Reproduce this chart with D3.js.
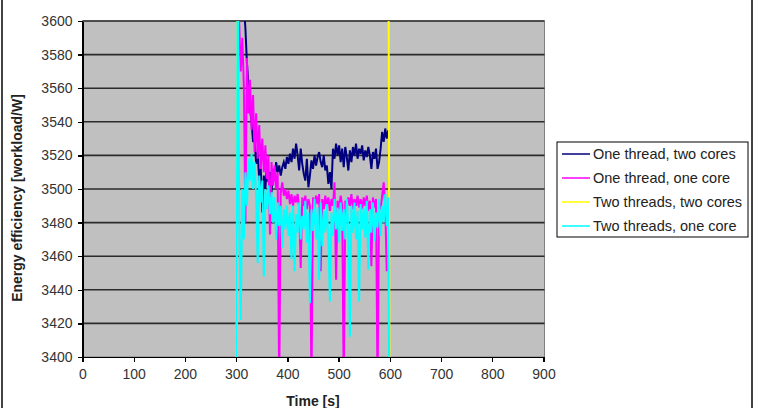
<!DOCTYPE html>
<meta charset="utf-8">
<style>

body {
  margin: 0;
  background: #fff;
}

.plot-bg {
  fill: #c0c0c0;
  stroke: #808080;
  stroke-width: 1;
}

.grid line {
  stroke: #2b2b2b;
  stroke-width: 1.6;
}

.axis path,
.axis line {
  stroke: #000;
  stroke-width: 1.3;
  shape-rendering: crispEdges;
}

.axis text {
  font-family: "Liberation Sans", Arial, sans-serif;
  font-size: 14px;
  fill: #333;
}

.series {
  fill: none;
  stroke-width: 2;
  stroke-linejoin: miter;
}

.axis-title {
  font-family: "Liberation Sans", Arial, sans-serif;
  font-size: 14px;
  font-weight: bold;
  fill: #222;
}

.legend-box {
  fill: #fff;
  stroke: #000;
  stroke-width: 1;
}

.legend-label {
  font-family: "Liberation Sans", Arial, sans-serif;
  font-size: 14.5px;
  fill: #222;
}

.frame {
  stroke: #444;
  stroke-width: 2;
}

</style>
<svg width="762" height="408"></svg>

<script src="https://d3js.org/d3.v7.min.js"></script>

<script>

// sample times (s), shared by the three measured series
var times = [300,303,306,309,312,315,318,321,324,327,330,333,336,339,342,345,348,351,354,357,
  360,363,366,369,372,375,378,381,384,387,390,393,396,399,402,405,408,411,414,417,
  420,423,426,429,432,435,438,441,444,447,450,453,456,459,462,465,468,471,474,477,
  480,483,486,489,492,495,498,501,504,507,510,513,516,519,522,525,528,531,534,537,
  540,543,546,549,552,555,558,561,564,567,570,573,576,579,582,585,588,591,594,597,600];

var oneThreadTwoCores = [null,3700,3670,3645,3625,3608,3596,3575,3562,3548,3540,3528,3530,3515,3522,3505,3512,3486,3508,3500,
  3514,3504,3510,3498,3512,3505,3516,3510,3514,3508,3513,3516,3512,3519,3515,3521,3516,3524,3518,3527,
  3520,3511,3524,3515,3509,3505,3518,3501,3508,3517,3512,3520,3514,3519,3522,3516,3513,3520,3511,3514,
  3503,3510,3500,3524,3518,3527,3520,3526,3516,3524,3513,3525,3519,3511,3523,3516,3525,3520,3527,3518,
  3524,3521,3526,3517,3523,3519,3525,3520,3512,3522,3518,3524,3512,3516,3524,3534,3528,3536,3530,3535,null];

var oneThreadOneCore = [null,3620,3598,3570,3590,3562,3480,3578,3545,3565,3535,3556,3522,3545,3518,3538,3512,3530,3510,3526,
  3506,3520,3473,3516,3502,3514,3500,3510,3380,3498,3504,3496,3500,3494,3499,3491,3497,3490,3496,3492,
  3497,3489,3453,3495,3490,3496,3488,3494,3490,3380,3495,3489,3496,3491,3497,3451,3494,3488,3496,3490,
  3495,3487,3494,3490,3504,3446,3493,3488,3496,3490,3380,3493,3489,3495,3490,3497,3488,3494,3490,3496,
  3489,3494,3488,3495,3490,3496,3487,3493,3454,3495,3489,3494,3380,3492,3488,3496,3504,3490,3451,null,null];

var twoThreadsOneCore = [3300,3650,3480,3422,3500,3470,3510,3490,3518,3505,3521,3500,3516,3495,3456,3508,3492,3505,3448,3500,
  3488,3502,3485,3498,3480,3495,3470,3492,3478,3490,3465,3488,3476,3490,3472,3486,3458,3490,3451,3485,
  3474,3492,3470,3484,3476,3493,3468,3486,3432,3488,3475,3494,3470,3489,3446,3492,3466,3487,3474,3491,
  3470,3433,3486,3472,3494,3476,3489,3468,3492,3475,3488,3470,3494,3478,3412,3490,3474,3492,3470,3487,
  3433,3491,3476,3489,3471,3493,3452,3488,3474,3492,3469,3486,3477,3494,3472,3490,3480,3497,3478,3495,3300];

// this one stays above the top of the value axis between the two jumps
var twoThreadsTwoCoresTimes = [300, 303, 597, 600];
var twoThreadsTwoCores = [3300, 3650, 3700, 3300];

var seriesNames = ["One thread, two cores", "One thread, one core", "Two threads, two cores", "Two threads, one core"];
var seriesColors = ["#000080", "#ff00ff", "#ffff00", "#00ffff"];

var xTicks = [0, 100, 200, 300, 400, 500, 600, 700, 800, 900];
var yTicks = [3400, 3420, 3440, 3460, 3480, 3500, 3520, 3540, 3560, 3580, 3600];

var svg = d3.select("svg"),
    plotLeft = 82.5, plotRight = 543.5, plotTop = 21, plotBottom = 357;

var x = d3.scaleLinear().domain([0, 900]).range([plotLeft, plotRight]);
var y = d3.scaleLinear().domain([3400, 3600]).range([plotBottom, plotTop]);

// outer frame (only the sides show in the crop)
svg.append("line").attr("class", "frame").attr("x1", 2).attr("x2", 2).attr("y1", 0).attr("y2", 408);
svg.append("line").attr("class", "frame").attr("x1", 752).attr("x2", 752).attr("y1", 0).attr("y2", 408);

svg.append("rect")
    .attr("class", "plot-bg")
    .attr("x", plotLeft)
    .attr("y", plotTop)
    .attr("width", plotRight - plotLeft + 1)
    .attr("height", plotBottom - plotTop);

svg.append("g")
    .attr("class", "grid")
    .selectAll("line")
    .data(yTicks.slice(1))
    .enter()
    .append("line")
    .attr("x1", plotLeft)
    .attr("x2", plotRight + 1)
    .attr("y1", function(d) { return y(d); })
    .attr("y2", function(d) { return y(d); });

svg.append("clipPath")
    .attr("id", "plot-clip")
    .append("rect")
    .attr("x", plotLeft)
    .attr("y", plotTop)
    .attr("width", plotRight - plotLeft)
    .attr("height", plotBottom - plotTop);

var line = d3.line()
    .defined(function(d) { return d[1] != null; })
    .x(function(d) { return x(d[0]); })
    .y(function(d) { return y(d[1]); });

var seriesData = [
  d3.zip(times, oneThreadTwoCores),
  d3.zip(times, oneThreadOneCore),
  d3.zip(twoThreadsTwoCoresTimes, twoThreadsTwoCores),
  d3.zip(times, twoThreadsOneCore)
];

svg.append("g")
    .attr("clip-path", "url(#plot-clip)")
    .selectAll(".series")
    .data(seriesData)
    .enter()
    .append("path")
    .attr("class", "series")
    .attr("stroke", function(d, i) { return seriesColors[i]; })
    .attr("d", line);

svg.append("g")
    .attr("class", "axis")
    .attr("transform", "translate(0," + plotBottom + ")")
    .call(d3.axisBottom(x).tickValues(xTicks).tickSize(5).tickSizeOuter(0).tickPadding(7));

svg.append("g")
    .attr("class", "axis")
    .attr("transform", "translate(" + plotLeft + ",0)")
    .call(d3.axisLeft(y).tickValues(yTicks).tickFormat(d3.format("d"))
      .tickSize(5).tickSizeOuter(0).tickPadding(5));

svg.append("text")
    .attr("class", "axis-title")
    .attr("text-anchor", "middle")
    .attr("transform", "translate(22," + ((plotTop + plotBottom) / 2 + 9) + ") rotate(-90)")
    .text("Energy efficiency [workload/W]");

svg.append("text")
    .attr("class", "axis-title")
    .attr("text-anchor", "middle")
    .attr("x", (plotLeft + plotRight) / 2)
    .attr("y", 406)
    .text("Time [s]");

// legend
var legend = svg.append("g").attr("transform", "translate(557,142)");

legend.append("rect")
    .attr("class", "legend-box")
    .attr("width", 191)
    .attr("height", 95);

var items = legend.selectAll(".legend-item")
    .data(seriesNames)
    .enter()
    .append("g")
    .attr("class", "legend-item")
    .attr("transform", function(d, i) { return "translate(0," + (12 + i * 24) + ")"; });

items.append("line")
    .attr("x1", 5)
    .attr("x2", 33)
    .attr("stroke-width", 1.5)
    .attr("stroke", function(d, i) { return seriesColors[i]; });

items.append("text")
    .attr("class", "legend-label")
    .attr("x", 36)
    .attr("dy", "0.35em")
    .text(function(d) { return d; });

</script>
